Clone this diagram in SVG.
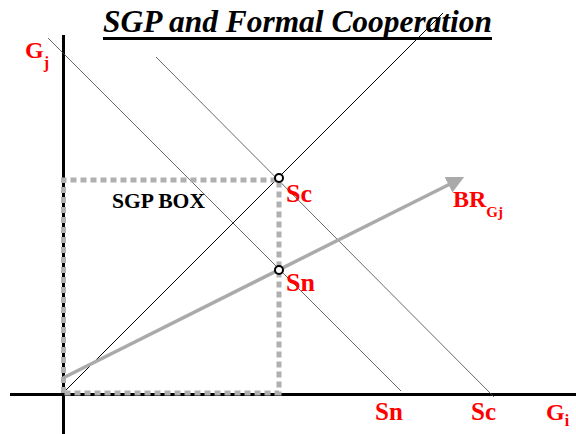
<svg xmlns="http://www.w3.org/2000/svg" width="576" height="434" viewBox="0 0 576 434">
<defs>
<style>
text{font-family:'Liberation Serif','Times New Roman',serif;font-weight:bold}
.lbl{fill:#ff0000}
.iso{stroke:#444;stroke-width:0.8;fill:none}
.axis{stroke:#000;stroke-width:3;fill:none}
.box{stroke:#b0b0b0;stroke-width:5;stroke-dasharray:6 4;fill:none}
.pt{fill:#fff;stroke:#000;stroke-width:2}
</style>
<marker id="ah" markerWidth="6" markerHeight="5" refX="4" refY="2.5" orient="auto" markerUnits="strokeWidth">
<path d="M0,0 L5,2.5 L0,5 z" fill="#aaaaaa"/>
</marker>
</defs>
<rect width="576" height="434" fill="#fff"/>
<g id="title">
<text x="103" y="32" font-style="italic" font-size="31" textLength="389" lengthAdjust="spacingAndGlyphs" fill="#000">SGP and Formal Cooperation</text>
<line x1="103" y1="38.5" x2="492" y2="38.5" stroke="#000" stroke-width="3"/>
</g>
<g id="connectors">
<line class="axis" x1="63.5" y1="35" x2="63.5" y2="434"/>
<line class="axis" x1="10" y1="394.5" x2="576" y2="394.5"/>
<line class="iso" x1="48" y1="38" x2="401" y2="391"/>
<line class="iso" x1="156" y1="57" x2="494" y2="397"/>
<line x1="63" y1="393" x2="443" y2="13" stroke="#000" stroke-width="1"/>
<polyline class="box" points="63.5,393 63.5,180 279,180 279,393 63.5,393"/>
<line x1="63" y1="378" x2="461" y2="178.5" stroke="#aaaaaa" stroke-width="3.5" marker-end="url(#ah)"/>
</g>
<g id="sc-point"><circle class="pt" cx="279" cy="178" r="4"/></g>
<g id="sn-point"><circle class="pt" cx="279" cy="270" r="4"/></g>
<g id="labels">
<text class="lbl" x="25" y="58" font-size="24">G<tspan font-size="16" dy="10">j</tspan></text>
<text class="lbl" x="286" y="202" font-size="26">Sc</text>
<text class="lbl" x="286" y="291" font-size="26">Sn</text>
<text class="lbl" x="453" y="207" font-size="24">BR<tspan font-size="15" dy="10">Gj</tspan></text>
<text class="lbl" x="375" y="420" font-size="25">Sn</text>
<text class="lbl" x="471" y="420" font-size="25">Sc</text>
<text class="lbl" x="546" y="420" font-size="24">G<tspan font-size="16" dy="6">i</tspan></text>
<text x="112" y="208" font-size="20" textLength="93" lengthAdjust="spacingAndGlyphs" fill="#000">SGP BOX</text>
</g>
</svg>
